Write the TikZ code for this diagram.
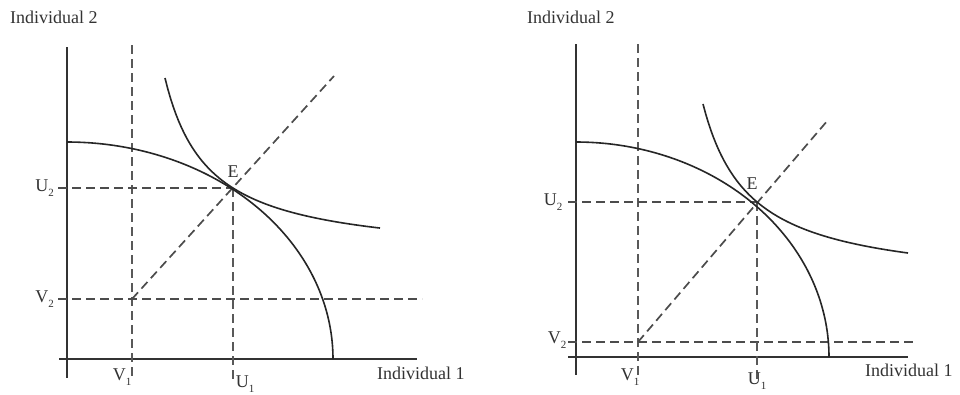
\documentclass[tikz,border=0pt]{standalone}
\usepackage{fontspec}
\setmainfont{Liberation Serif}
\newcommand{\mysub}[1]{\raisebox{-5pt}{\fontsize{11}{11}\selectfont #1}}
\begin{document}
\begin{tikzpicture}[x=1pt,y=-1pt,
  axis/.style={line width=1.8pt, draw=black!80},
  guide/.style={line width=1.7pt, draw=black!70, dash pattern=on 9pt off 5pt},
  vguide/.style={line width=1.3pt, draw=black!65, dash pattern=on 9pt off 5pt},
  curve/.style={line width=1.6pt, draw=black!85},
  lbl/.style={font=\fontsize{18}{20}\selectfont, text=black!80, inner sep=0pt}]
\useasboundingbox[fill=white] (0,0) rectangle (960,394);

% ---------- left panel ----------
\coordinate (LyTop) at (67,47);
\coordinate (LyBot) at (67,378);
\coordinate (LxL) at (59,359);
\coordinate (LxR) at (417,359);
\coordinate (LE) at (233,188);
\coordinate (LV) at (132,299);
\coordinate (LV1t) at (132,45);
\coordinate (LV1b) at (132,380);
\coordinate (LU2l) at (58,188);
\coordinate (LV2l) at (58,299);
\coordinate (LV2r) at (422,299);
\coordinate (LU1b) at (233,380);
\coordinate (LDe) at (334,76);

\draw[axis] (LyTop) -- (LyBot);
\draw[axis] (LxL) -- (LxR);
\draw[vguide] (LV1t) -- (LV1b);
\draw[guide] (LU2l) -- (LE);
\draw[guide] (LV2l) -- (LV2r);
\draw[vguide] (LE) -- (LU1b);
\draw[guide] (LV) -- (LDe);
\draw[curve] plot[domain=0:90, samples=80] ({67+266*sin(\x)},{359-217*cos(\x)});
\draw[curve] plot[domain=165:380, samples=80] (\x,{258.4-7846/(\x-121.5)});

\node[lbl, anchor=west] (LI2) at (10,17) {Individual 2};
\node[lbl, anchor=west] (LI1) at (377,373) {Individual 1};
\node[lbl, anchor=east] (LU2) at (54,188) {U\mysub{2}};
\node[lbl, anchor=east] (LV2) at (54,299) {V\mysub{2}};
\node[lbl] (LV1) at (122,377) {V\mysub{1}};
\node[lbl] (LU1) at (245,384) {U\mysub{1}};
\node[lbl] (LEl) at (233,172) {E};

% ---------- right panel ----------
\coordinate (RyTop) at (576,44);
\coordinate (RyBot) at (576,375);
\coordinate (RxL) at (568,357);
\coordinate (RxR) at (908,357);
\coordinate (RE) at (757,202);
\coordinate (RV) at (638,342);
\coordinate (RV1t) at (638,44);
\coordinate (RV1b) at (638,380);
\coordinate (RU2l) at (568,202);
\coordinate (RV2l) at (568,342);
\coordinate (RV2r) at (915,342);
\coordinate (RU1b) at (757,383);
\coordinate (RDe) at (828,120);

\draw[axis] (RyTop) -- (RyBot);
\draw[axis] (RxL) -- (RxR);
\draw[vguide] (RV1t) -- (RV1b);
\draw[guide] (RU2l) -- (RE);
\draw[guide] (RV2l) -- (RV2r);
\draw[vguide] (RE) -- (RU1b);
\draw[guide] (RV) -- (RDe);
\draw[curve] plot[domain=0:90, samples=80] ({576+253*sin(\x)},{357-215*cos(\x)});
\draw[curve] plot[domain=703:908, samples=80] (\x,{287.1-8588/(\x-656.1)});

\node[lbl, anchor=west] (RI2) at (527,17) {Individual 2};
\node[lbl, anchor=west] (RI1) at (865,370) {Individual 1};
\node[lbl] (RU2) at (553,202) {U\mysub{2}};
\node[lbl] (RV2) at (557,340) {V\mysub{2}};
\node[lbl] (RV1) at (630,377) {V\mysub{1}};
\node[lbl] (RU1) at (757,381) {U\mysub{1}};
\node[lbl] (REl) at (752,184) {E};
\end{tikzpicture}
\end{document}
